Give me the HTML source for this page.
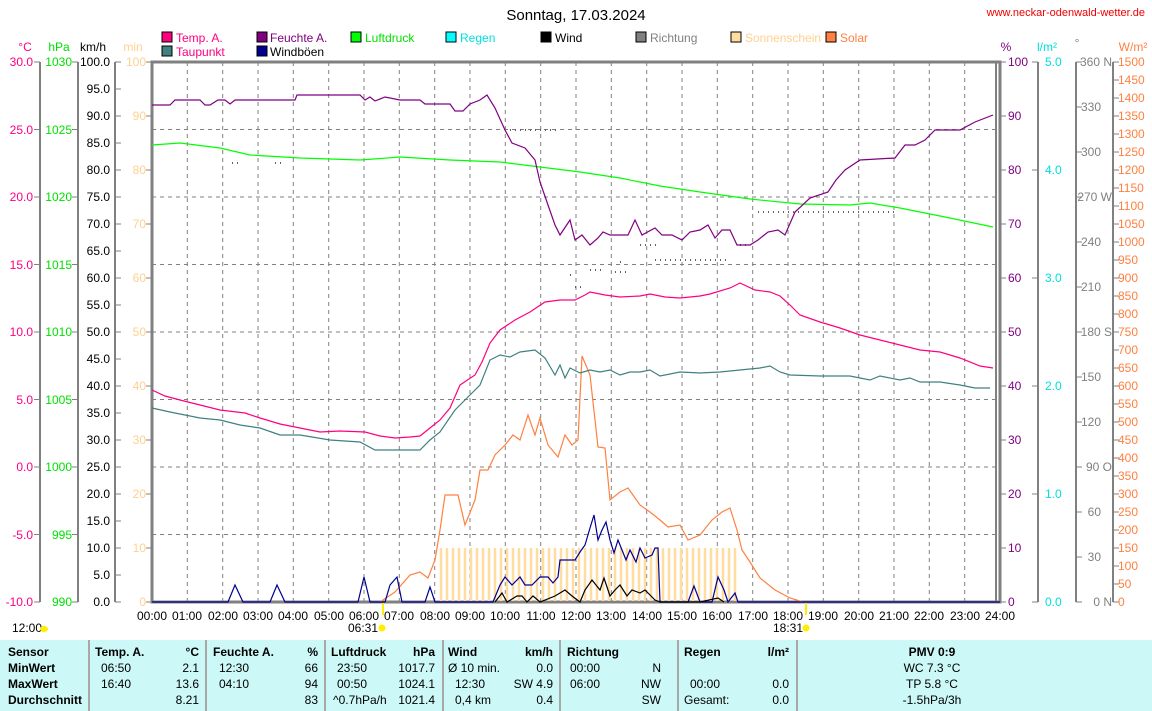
<!DOCTYPE html>
<html><head><meta charset="utf-8"><style>
body{margin:0;background:#fff;width:1152px;height:711px;overflow:hidden;font-family:"Liberation Sans",sans-serif}
svg text{font-family:"Liberation Sans",sans-serif;font-size:12px}
#tb{position:absolute;left:0;top:640px;width:1152px;height:71px;background:#ccf8f8;font-size:12px}
#tb div{position:absolute;white-space:nowrap;line-height:16px}
#tb .sep{width:2px;height:71px;top:0;background:#a8a8a8}
.b{font-weight:bold}
</style></head><body>
<svg width="1152" height="640" style="position:absolute;left:0;top:0">
<text x="576" y="20" text-anchor="middle" style="font-size:15px">Sonntag, 17.03.2024</text>
<text x="1145" y="16" text-anchor="end" fill="#e00" style="font-size:11px">www.neckar-odenwald-wetter.de</text>
<g stroke="#000" stroke-width="1">
<rect x="162" y="32" width="10" height="10" fill="#ff0080"/><rect x="257" y="32" width="10" height="10" fill="#800080"/><rect x="351" y="32" width="10" height="10" fill="#00ff00"/><rect x="446" y="32" width="10" height="10" fill="#00ffff"/><rect x="541" y="32" width="10" height="10" fill="#000"/><rect x="636" y="32" width="10" height="10" fill="#808080"/><rect x="731" y="32" width="10" height="10" fill="#ffdca0"/><rect x="826" y="32" width="10" height="10" fill="#ff8040"/>
<rect x="162" y="46" width="10" height="10" fill="#408080"/><rect x="257" y="46" width="10" height="10" fill="#000090"/></g>
<text x="176" y="42" fill="#ff0080">Temp. A.</text><text x="270" y="42" fill="#800080">Feuchte A.</text><text x="365" y="42" fill="#00e000">Luftdruck</text><text x="460" y="42" fill="#00e0e0">Regen</text><text x="555" y="42">Wind</text><text x="650" y="42" fill="#808080">Richtung</text><text x="745" y="42" fill="#ffd090">Sonnenschein</text><text x="840" y="42" fill="#ff8040">Solar</text>
<text x="176" y="56" fill="#ff0080">Taupunkt</text><text x="270" y="56">Windböen</text>
<text x="25" y="51" text-anchor="middle" fill="#ff0080">°C</text><text x="59" y="51" text-anchor="middle" fill="#00e000">hPa</text><text x="93" y="51" text-anchor="middle">km/h</text><text x="133" y="51" text-anchor="middle" fill="#ffd090">min</text>
<text x="1006" y="51" text-anchor="middle" fill="#800080">%</text><text x="1047" y="51" text-anchor="middle" fill="#00e0e0">l/m²</text><text x="1077" y="47" text-anchor="middle" fill="#808080">°</text><text x="1133" y="51" text-anchor="middle" fill="#ff8040">W/m²</text>
<g stroke="#808080" stroke-dasharray="4,4" stroke-width="1">
<path d="M152 129.5H1000M152 197H1000M152 264.5H1000M152 332H1000M152 399.5H1000M152 467H1000M152 534.5H1000"/>
<path d="M187.3 62V602M222.7 62V602M258 62V602M293.3 62V602M328.7 62V602M364 62V602M399.3 62V602M434.7 62V602M470 62V602M505.3 62V602M540.7 62V602M576 62V602M611.3 62V602M646.7 62V602M682 62V602M717.3 62V602M752.7 62V602M788 62V602M823.3 62V602M858.7 62V602M894 62V602M929.3 62V602M964.7 62V602"/>
</g>
<g stroke="#808080" stroke-width="2" fill="none">
<path d="M40 62V602M78 62V602M115 62V602M1038 62V602M1076 62V602M1113 62V602M996 62V602"/>
<rect x="152" y="62" width="848" height="540" stroke-width="3"/>
</g>
<g stroke="#808080" stroke-width="1">
<path d="M34 62H40M34 129.5H40M34 197H40M34 264.5H40M34 332H40M34 399.5H40M34 467H40M34 534.5H40M34 602H40"/>
<path d="M72 62H78M72 129.5H78M72 197H78M72 264.5H78M72 332H78M72 399.5H78M72 467H78M72 534.5H78M72 602H78"/>
<path d="M115 62H121M115 89H121M115 116H121M115 143H121M115 170H121M115 197H121M115 224H121M115 251H121M115 278H121M115 305H121M115 332H121M115 359H121M115 386H121M115 413H121M115 440H121M115 467H121M115 494H121M115 521H121M115 548H121M115 575H121M115 602H121"/>
<path d="M146 62H152M146 116H152M146 170H152M146 224H152M146 278H152M146 332H152M146 386H152M146 440H152M146 494H152M146 548H152M146 602H152"/>
<path d="M1000 62H1006M1000 116H1006M1000 170H1006M1000 224H1006M1000 278H1006M1000 332H1006M1000 386H1006M1000 440H1006M1000 494H1006M1000 548H1006M1000 602H1006"/>
<path d="M1032 62H1038M1032 170H1038M1032 278H1038M1032 386H1038M1032 494H1038M1032 602H1038"/>
<path d="M1076 62H1082M1076 107H1082M1076 152H1082M1076 197H1082M1076 242H1082M1076 287H1082M1076 332H1082M1076 377H1082M1076 422H1082M1076 467H1082M1076 512H1082M1076 557H1082M1076 602H1082"/>
<path d="M1113 62H1119M1113 80H1119M1113 98H1119M1113 116H1119M1113 134H1119M1113 152H1119M1113 170H1119M1113 188H1119M1113 206H1119M1113 224H1119M1113 242H1119M1113 260H1119M1113 278H1119M1113 296H1119M1113 314H1119M1113 332H1119M1113 350H1119M1113 368H1119M1113 386H1119M1113 404H1119M1113 422H1119M1113 440H1119M1113 458H1119M1113 476H1119M1113 494H1119M1113 512H1119M1113 530H1119M1113 548H1119M1113 566H1119M1113 584H1119M1113 602H1119"/>
</g>
<g text-anchor="end" fill="#ff0080"><text x="33" y="66">30.0</text><text x="33" y="134">25.0</text><text x="33" y="201">20.0</text><text x="33" y="269">15.0</text><text x="33" y="336">10.0</text><text x="33" y="404">5.0</text><text x="33" y="471">0.0</text><text x="33" y="539">-5.0</text><text x="33" y="606">-10.0</text></g>
<g text-anchor="end" fill="#00e000"><text x="72" y="66">1030</text><text x="72" y="134">1025</text><text x="72" y="201">1020</text><text x="72" y="269">1015</text><text x="72" y="336">1010</text><text x="72" y="404">1005</text><text x="72" y="471">1000</text><text x="72" y="539">995</text><text x="72" y="606">990</text></g>
<g text-anchor="end"><text x="110" y="66">100.0</text><text x="110" y="93">95.0</text><text x="110" y="120">90.0</text><text x="110" y="147">85.0</text><text x="110" y="174">80.0</text><text x="110" y="201">75.0</text><text x="110" y="228">70.0</text><text x="110" y="255">65.0</text><text x="110" y="282">60.0</text><text x="110" y="309">55.0</text><text x="110" y="336">50.0</text><text x="110" y="363">45.0</text><text x="110" y="390">40.0</text><text x="110" y="417">35.0</text><text x="110" y="444">30.0</text><text x="110" y="471">25.0</text><text x="110" y="498">20.0</text><text x="110" y="525">15.0</text><text x="110" y="552">10.0</text><text x="110" y="579">5.0</text><text x="110" y="606">0.0</text></g>
<g text-anchor="end" fill="#ffd090"><text x="146" y="66">100</text><text x="146" y="120">90</text><text x="146" y="174">80</text><text x="146" y="228">70</text><text x="146" y="282">60</text><text x="146" y="336">50</text><text x="146" y="390">40</text><text x="146" y="444">30</text><text x="146" y="498">20</text><text x="146" y="552">10</text><text x="146" y="606">0</text></g>
<g fill="#800080"><text x="1008" y="66">100</text><text x="1008" y="120">90</text><text x="1008" y="174">80</text><text x="1008" y="228">70</text><text x="1008" y="282">60</text><text x="1008" y="336">50</text><text x="1008" y="390">40</text><text x="1008" y="444">30</text><text x="1008" y="498">20</text><text x="1008" y="552">10</text><text x="1008" y="606">0</text></g>
<g fill="#00e0e0"><text x="1045" y="66">5.0</text><text x="1045" y="174">4.0</text><text x="1045" y="282">3.0</text><text x="1045" y="390">2.0</text><text x="1045" y="498">1.0</text><text x="1045" y="606">0.0</text></g>
<g fill="#808080" text-anchor="end"><text x="1112" y="66">360 N</text><text x="1101" y="111">330</text><text x="1101" y="156">300</text><text x="1112" y="201">270 W</text><text x="1101" y="246">240</text><text x="1101" y="291">210</text><text x="1112" y="336">180 S</text><text x="1101" y="381">150</text><text x="1101" y="426">120</text><text x="1112" y="471">90 O</text><text x="1101" y="516">60</text><text x="1101" y="561">30</text><text x="1112" y="606">0 N</text></g>
<g fill="#ff8040"><text x="1118" y="66">1500</text><text x="1118" y="84">1450</text><text x="1118" y="102">1400</text><text x="1118" y="120">1350</text><text x="1118" y="138">1300</text><text x="1118" y="156">1250</text><text x="1118" y="174">1200</text><text x="1118" y="192">1150</text><text x="1118" y="210">1100</text><text x="1118" y="228">1050</text><text x="1118" y="246">1000</text><text x="1118" y="264">950</text><text x="1118" y="282">900</text><text x="1118" y="300">850</text><text x="1118" y="318">800</text><text x="1118" y="336">750</text><text x="1118" y="354">700</text><text x="1118" y="372">650</text><text x="1118" y="390">600</text><text x="1118" y="408">550</text><text x="1118" y="426">500</text><text x="1118" y="444">450</text><text x="1118" y="462">400</text><text x="1118" y="480">350</text><text x="1118" y="498">300</text><text x="1118" y="516">250</text><text x="1118" y="534">200</text><text x="1118" y="552">150</text><text x="1118" y="570">100</text><text x="1118" y="588">50</text><text x="1118" y="606">0</text></g>
<path stroke="#ffdca0" stroke-width="2.5" d="M441 548V601M447 548V601M453 548V601M459 548V601M465 548V601M471 548V601M477 548V601M483 548V601M489 548V601M495 548V601M501 548V601M507 548V601M513 548V601M519 548V601M525 548V601M531 548V601M537 548V601M543 548V601M549 548V601M555 548V601M561 548V601M567 548V601M573 548V601M579 548V601M585 548V601M591 548V601M597 548V601M603 548V601M609 548V601M615 548V601M621 548V601M627 548V601M633 548V601M639 548V601M645 548V601M651 548V601M657 548V601M663 548V601M669 548V601M675 548V601M681 548V601M687 548V601M693 548V601M699 548V601M705 548V601M711 548V601M717 548V601M723 548V601M729 548V601M735 548V601"/>
<g stroke="#606060" stroke-width="2" stroke-dasharray="1,4" fill="none">
<path d="M232 163H242M275 163H285M510 130H560M758 212H895M655 260H730M570 275H575M590 270H605M620 262H625M640 245H660M740 245H750M615 272H630M575 287H585"/>
</g>
<g fill="none" stroke-width="1.2">
<polyline stroke="#00ff00" points="152,145 180,143 220,148 250,155 300,158 360,160 400,157 450,160 500,162 540,167 580,172 620,178 660,186 700,192 750,199 800,204 850,205 870,203 900,208 950,218 993,227"/>
<polyline stroke="#ff8040" points="380,602 395,592 410,575 420,572 428,578 435,560 440,530 445,495 458,495 465,525 475,500 480,470 488,470 495,455 505,445 513,435 520,440 528,415 535,435 540,418 548,445 558,457 565,435 572,445 578,440 582,356 590,375 598,447 605,448 610,500 620,492 628,488 640,505 650,512 660,520 668,527 680,525 688,540 700,535 712,520 722,512 730,508 737,530 742,550 750,562 760,578 775,590 790,598 803,602"/>
<polyline stroke="#408080" points="152,408 170,412 200,418 220,420 240,425 260,428 280,435 300,435 330,440 360,442 375,450 400,450 420,450 430,440 440,432 455,410 470,395 480,385 490,360 500,355 510,357 520,352 535,350 545,358 555,375 560,365 565,378 570,368 580,373 590,370 600,372 610,370 620,375 630,372 640,372 650,370 660,376 680,372 700,373 720,372 740,370 760,368 770,366 780,372 790,375 820,376 850,376 870,380 880,376 900,380 910,378 920,382 940,382 960,385 975,388 990,388"/>
<polyline stroke="#ff0080" points="152,390 165,396 180,400 200,405 220,410 245,413 260,418 280,424 300,428 320,432 340,431 365,432 380,436 395,438 410,437 420,436 430,428 440,420 450,408 460,385 475,375 482,362 490,343 500,330 515,320 530,312 545,302 560,300 575,300 585,295 590,292 605,295 620,297 640,296 650,294 665,297 680,298 700,296 710,294 730,288 740,283 755,290 770,292 780,296 790,305 800,315 820,322 840,328 860,335 880,340 900,345 920,350 940,352 960,358 980,366 993,368"/>
<polyline stroke="#800080" points="152,105 170,105 175,100 200,100 205,105 210,105 218,100 225,100 230,104 235,100 295,100 297,95 360,95 365,100 370,97 375,101 385,97 400,100 420,100 425,104 450,104 455,111 463,111 470,104 480,100 487,95 495,108 505,130 512,143 525,148 535,160 540,182 548,205 555,225 560,235 570,220 575,240 582,235 590,245 598,238 603,232 610,235 628,235 635,220 642,235 655,228 662,235 672,235 682,240 690,232 700,230 708,225 715,238 722,230 730,230 737,245 750,245 758,240 768,232 778,230 785,235 795,212 810,198 828,192 836,180 845,170 860,160 895,158 905,145 915,145 925,140 935,130 947,130 960,130 975,122 993,115"/>
<polyline stroke="#000090" points="152,602 228,602 235,585 243,602 270,602 277,585 285,602 358,602 364,577 370,602 385,602 390,585 397,577 402,602 425,602 430,587 435,602 493,602 500,585 505,577 512,585 520,577 525,585 532,585 540,577 548,577 553,583 558,577 560,560 568,560 575,560 580,552 585,545 590,528 594,515 598,540 602,530 606,522 610,540 614,553 618,540 622,550 626,560 630,550 636,562 640,548 645,558 652,555 655,548 658,548 660,602 688,602 694,586 700,602 712,602 718,577 724,590 728,602 735,593 738,602 1000,602"/>
<polyline stroke="#000" points="495,602 502,593 507,602 517,596 522,596 527,602 533,596 540,602 555,596 565,590 572,596 580,602 585,590 592,580 600,590 604,578 610,596 615,590 620,585 627,596 632,590 640,593 645,590 655,600 660,602 700,602 718,598 724,602"/>
</g>
<g text-anchor="middle"><text x="152" y="620">00:00</text><text x="187" y="620">01:00</text><text x="223" y="620">02:00</text><text x="258" y="620">03:00</text><text x="293" y="620">04:00</text><text x="329" y="620">05:00</text><text x="364" y="620">06:00</text><text x="399" y="620">07:00</text><text x="435" y="620">08:00</text><text x="470" y="620">09:00</text><text x="505" y="620">10:00</text><text x="541" y="620">11:00</text><text x="576" y="620">12:00</text><text x="611" y="620">13:00</text><text x="647" y="620">14:00</text><text x="682" y="620">15:00</text><text x="717" y="620">16:00</text><text x="753" y="620">17:00</text><text x="788" y="620">18:00</text><text x="823" y="620">19:00</text><text x="859" y="620">20:00</text><text x="894" y="620">21:00</text><text x="929" y="620">22:00</text><text x="965" y="620">23:00</text><text x="1000" y="620">24:00</text></g>
<path stroke="#ffee00" stroke-width="2" d="M383 603V615M806 603V615"/>
<text x="12" y="632">12:00</text><ellipse cx="44" cy="629" rx="4" ry="3" fill="#ffee00"/>
<text x="348" y="632">06:31</text><circle cx="382" cy="628" r="3.5" fill="#ffee00"/>
<text x="773" y="632">18:31</text><circle cx="806" cy="628" r="3.5" fill="#ffee00"/>
</svg>
<div id="tb">
<div class="sep" style="left:88px"></div><div class="sep" style="left:205px"></div><div class="sep" style="left:324px"></div><div class="sep" style="left:442px"></div><div class="sep" style="left:559px"></div><div class="sep" style="left:677px"></div><div class="sep" style="left:796px"></div>
<div class="b" style="left:8px;top:4px">Sensor</div><div class="b" style="left:8px;top:20px">MinWert</div><div class="b" style="left:8px;top:36px">MaxWert</div><div class="b" style="left:8px;top:52px">Durchschnitt</div>
<div class="b" style="left:95px;top:4px">Temp. A.</div><div class="b" style="right:953px;top:4px">°C</div>
<div style="left:101px;top:20px">06:50</div><div style="right:953px;top:20px">2.1</div><div style="left:101px;top:36px">16:40</div><div style="right:953px;top:36px">13.6</div><div style="right:953px;top:52px">8.21</div>
<div class="b" style="left:213px;top:4px">Feuchte A.</div><div class="b" style="right:834px;top:4px">%</div>
<div style="left:219px;top:20px">12:30</div><div style="right:834px;top:20px">66</div><div style="left:219px;top:36px">04:10</div><div style="right:834px;top:36px">94</div><div style="right:834px;top:52px">83</div>
<div class="b" style="left:331px;top:4px">Luftdruck</div><div class="b" style="right:717px;top:4px">hPa</div>
<div style="left:337px;top:20px">23:50</div><div style="right:717px;top:20px">1017.7</div><div style="left:337px;top:36px">00:50</div><div style="right:717px;top:36px">1024.1</div><div style="left:333px;top:52px">^0.7hPa/h</div><div style="right:717px;top:52px">1021.4</div>
<div class="b" style="left:448px;top:4px">Wind</div><div class="b" style="right:599px;top:4px">km/h</div>
<div style="left:448px;top:20px">Ø 10 min.</div><div style="right:599px;top:20px">0.0</div><div style="left:455px;top:36px">12:30</div><div style="right:599px;top:36px">SW 4.9</div><div style="left:455px;top:52px">0,4 km</div><div style="right:599px;top:52px">0.4</div>
<div class="b" style="left:567px;top:4px">Richtung</div>
<div style="left:570px;top:20px">00:00</div><div style="right:491px;top:20px">N</div><div style="left:570px;top:36px">06:00</div><div style="right:491px;top:36px">NW</div><div style="right:491px;top:52px">SW</div>
<div class="b" style="left:684px;top:4px">Regen</div><div class="b" style="right:363px;top:4px">l/m²</div>
<div style="left:690px;top:36px">00:00</div><div style="right:363px;top:36px">0.0</div><div style="left:684px;top:52px">Gesamt:</div><div style="right:363px;top:52px">0.0</div>
<div class="b" style="left:882px;width:100px;text-align:center;top:4px">PMV 0:9</div>
<div style="left:882px;width:100px;text-align:center;top:20px">WC 7.3 °C</div><div style="left:882px;width:100px;text-align:center;top:36px">TP 5.8 °C</div><div style="left:882px;width:100px;text-align:center;top:52px">-1.5hPa/3h</div>
</div>
</body></html>
